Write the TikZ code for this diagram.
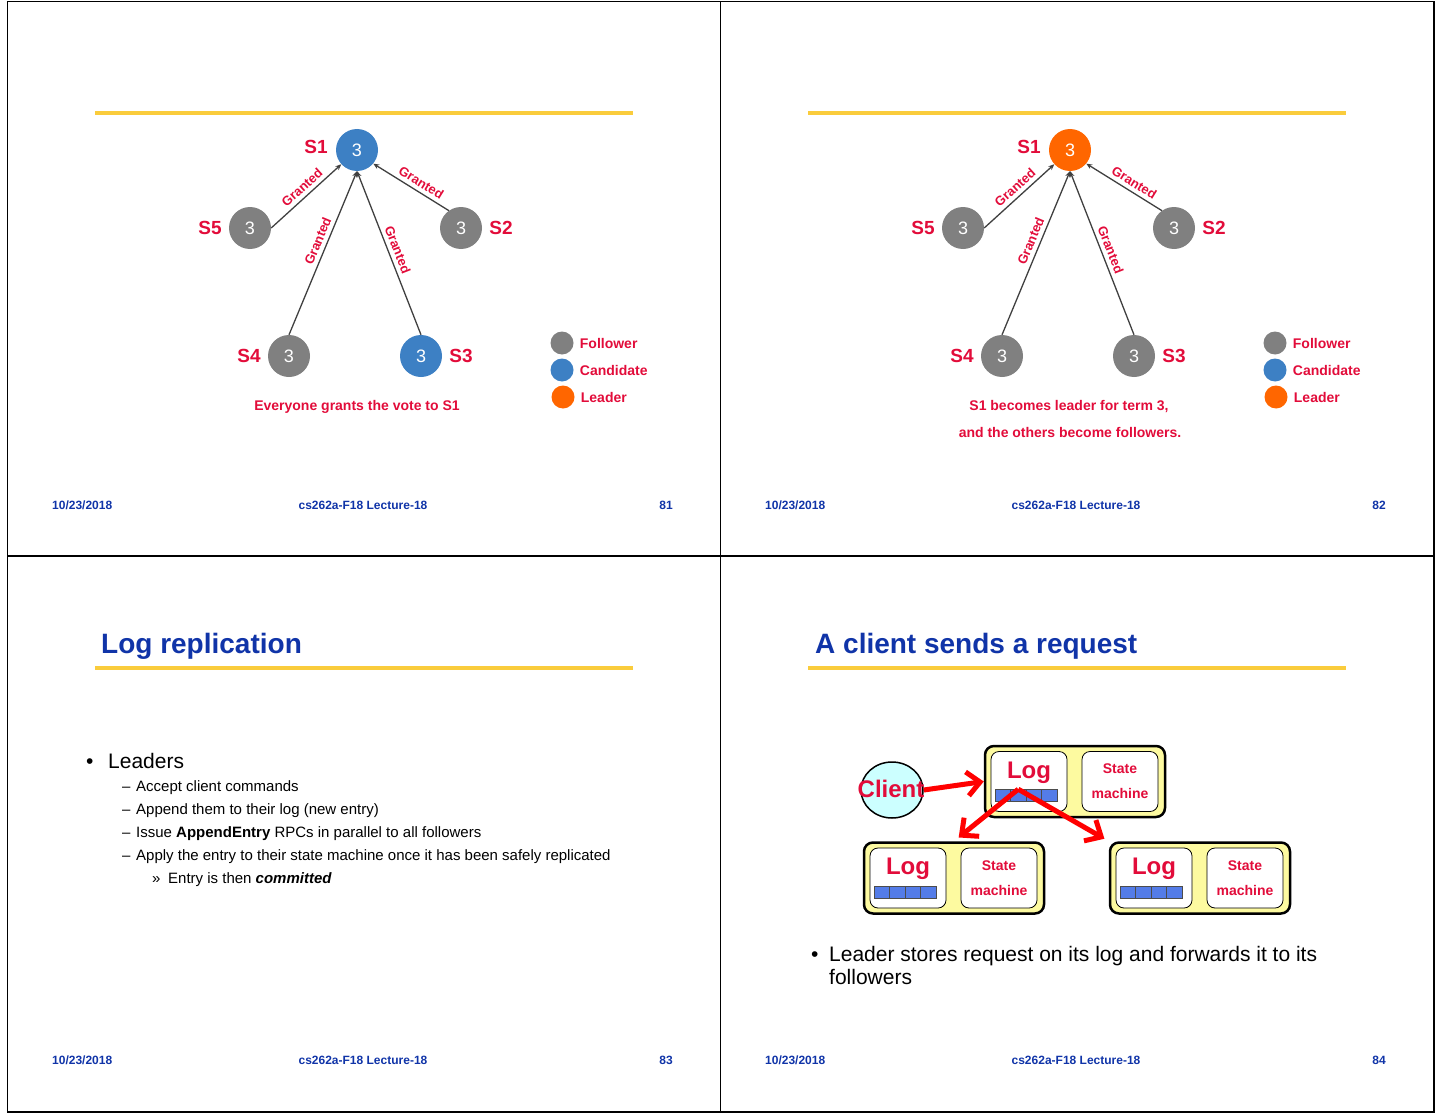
\documentclass[tikz,border=0pt]{standalone}
\usepackage{fontspec}
\setmainfont{Liberation Sans}
\usepackage{xcolor}
\usetikzlibrary{positioning, arrows.meta, shapes.geometric}

\definecolor{votered}{RGB}{226,12,58}
\definecolor{srvgray}{RGB}{128,128,128}
\definecolor{srvblue}{RGB}{61,128,196}
\definecolor{srvorange}{RGB}{255,102,0}
\definecolor{slideblue}{RGB}{16,52,168}
\definecolor{ruleyellow}{RGB}{250,204,60}
\definecolor{boxyellow}{RGB}{253,250,160}
\definecolor{clientcyan}{RGB}{204,255,255}
\definecolor{cellblue}{RGB}{84,124,232}

\newcommand{\sizept}[1]{\fontsize{#1}{#1}\selectfont}

\begin{document}
\begin{tikzpicture}[x=1pt, y=-1pt,
    node distance=6pt,
    srv/.style={circle, minimum size=42pt, inner sep=0pt, text=white, font=\sizept{18}},
    follower/.style={srv, fill=srvgray},
    candidate/.style={srv, fill=srvblue},
    leader/.style={srv, fill=srvorange},
    srvlabel/.style={text=votered, font=\sizept{19}\bfseries, inner sep=1pt},
    vote/.style={draw=black!75, line width=1.3pt, -{Stealth[length=6pt, width=5pt]}},
    granted/.style={text=votered, font=\sizept{13}\bfseries, inner sep=1pt, sloped, above=3pt},
    legdot/.style={minimum size=23pt},
    legtext/.style={text=votered, font=\sizept{14}\bfseries, inner sep=1pt},
    captiontext/.style={text=votered, font=\sizept{14}\bfseries, inner sep=0pt},
    foot/.style={text=slideblue, font=\sizept{12}\bfseries, inner sep=0pt},
    yrule/.style={draw=ruleyellow, line width=3.5pt},
    slidetitle/.style={text=slideblue, font=\sizept{28}\bfseries, inner sep=0pt, anchor=base west},
    bodybig/.style={font=\sizept{21}, inner sep=0pt, anchor=base west},
    bodysmall/.style={font=\sizept{15}, inner sep=0pt, anchor=base west},
    srvbox/.style={draw, line width=2.5pt, fill=boxyellow, rounded corners=9pt, minimum width=180pt, minimum height=71pt, inner sep=0pt},
    innerbox/.style={draw, line width=0.8pt, fill=white, rounded corners=8pt, minimum width=76pt, minimum height=60pt, inner sep=0pt},
    logtext/.style={text=votered, font=\sizept{24}\bfseries, inner sep=0pt},
    smtext/.style={text=votered, font=\fontsize{14}{25}\selectfont\bfseries, inner sep=0pt, align=center},
    cell/.style={draw=black!70, fill=cellblue, line width=0.6pt, minimum width=15.5pt, minimum height=12pt, inner sep=0pt},
    client/.style={ellipse, draw, line width=1.5pt, fill=clientcyan, minimum width=62pt, minimum height=56pt, inner sep=0pt},
    push/.style={draw=red, line width=5pt, -{Straight Barb[length=13pt, width=24pt]}}
  ]
  \useasboundingbox (0,0) rectangle (1440,1113);

  % slide frames
  \draw[line width=1.5pt] (7.5,1.5) rectangle (1434,1112);
  \draw[line width=1.5pt] (720.5,1.5) -- (720.5,1112);
  \draw[line width=1.5pt] (7.5,556) -- (1434,556);

  \foreach \dx/\dy in {0/0, 713/0, 0/555, 713/555}
    \draw[yrule] (95+\dx,113+\dy) -- (633+\dx,113+\dy);

  % footers
  \foreach \dx/\dy/\num in {0/0/81, 713/0/82, 0/555/83, 713/555/84} {
    \node[foot, anchor=base west] (date\num) at (52+\dx,509+\dy) {10/23/2018};
    \node[foot, anchor=base] (course\num) at (363+\dx,509+\dy) {cs262a-F18 Lecture-18};
    \node[foot, anchor=base east] (page\num) at (673+\dx,509+\dy) {\num};
  }

  % election slides
  \foreach \dx/\headstyle/\lowstyle/\p in {0/candidate/candidate/a, 713/leader/follower/b} {
    \begin{scope}[xshift=\dx]
      \node[\headstyle] (s1\p) at (357,150) {3};
      \node[follower] (s5\p) at (250,228) {3};
      \node[follower] (s2\p) at (461,228) {3};
      \node[follower] (s4\p) at (289,356) {3};
      \node[\lowstyle] (s3\p) at (421,356) {3};

      \node[srvlabel, left=7pt of s1\p, yshift=3pt] (l1\p) {S1};
      \node[srvlabel, left=of s5\p] (l5\p) {S5};
      \node[srvlabel, right=of s2\p] (l2\p) {S2};
      \node[srvlabel, left=of s4\p] (l4\p) {S4};
      \node[srvlabel, right=of s3\p] (l3\p) {S3};

      \draw[vote] (s5\p.east) -- (s1\p) node[granted, pos=0.53] {Granted};
      \draw[vote] (s2\p.125) -- (s1\p.-40) node[granted, pos=0.43] {Granted};
      \draw[vote] (s4\p.north) -- (s1\p.south) node[granted, pos=0.55] {Granted};
      \draw[vote] (s3\p.north) -- (s1\p.south) node[granted, pos=0.5] {Granted};

      \node[follower, legdot] (dotf\p) at (562,343) {};
      \node[candidate, legdot] (dotc\p) at (562,370) {};
      \node[leader, legdot] (dotl\p) at (563,397) {};
      \node[legtext, right=5pt of dotf\p] (txtf\p) {Follower};
      \node[legtext, right=5pt of dotc\p] (txtc\p) {Candidate};
      \node[legtext, right=5pt of dotl\p] (txtl\p) {Leader};
    \end{scope}
  }
  \node[captiontext] (capa) at (357,407) {Everyone grants the vote to S1};
  \node[captiontext] (capb1) at (1069,407) {S1 becomes leader for term 3,};
  \node[captiontext] (capb2) at (1070,432) {and the others become followers.};

  % log replication slide
  \node[slidetitle] (title3) at (101,653) {Log replication};
  \node[bodybig] (dot3) at (86,768) {•};
  \node[bodybig] (lead3) at (108,768) {Leaders};
  \foreach \y/\t [count=\k] in {791/{Accept client commands},
      814/{Append them to their log (new entry)},
      837/{Issue \textbf{AppendEntry} RPCs in parallel to all followers},
      860/{Apply the entry to their state machine once it has been safely replicated}} {
    \node[bodysmall] (dash\k) at (122,\y) {–};
    \node[bodysmall] (item\k) at (136,\y) {\t};
  }
  \node[bodysmall] (raquo) at (152,883) {»};
  \node[bodysmall] (commit) at (168,883) {Entry is then \textbf{\textit{committed}}};

  % client request slide
  \node[slidetitle] (title4) at (815,653) {A client sends a request};
  \foreach \bx/\by/\b in {1075/781.5/ld, 954/878/fa, 1200/878/fb} {
    \node[srvbox] (\b) at (\bx,\by) {};
    \node[innerbox] (\b-log) at ([xshift=-46pt]\b.center) {};
    \node[innerbox] (\b-sm) at ([xshift=45pt]\b.center) {};
    \node[logtext] (\b-lt) at ([yshift=9pt]\b-log.center) {Log};
    \node[smtext] (\b-st) at (\b-sm.center) {State\\machine};
    \foreach \i in {1,...,4}
      \node[cell] (\b-c\i) at ([xshift={(\i-2.5)*15.5pt-3pt}, yshift=-14pt]\b-log.center) {};
  }
  \node[client] (client) at (892,790) {};
  \node[logtext] (clienttxt) at ([xshift=-1pt, yshift=1pt]client.center) {Client};

  \draw[push] (client.east) -- (ld.west);
  \draw[push, shorten >=6pt] (ld-c2.north) -- (fa.north);
  \draw[push, shorten >=5pt] (ld-c2.north) -- (fb.north west);

  \node[bodybig] (dot4) at (811,961) {•};
  \node[bodybig] (line4a) at (829,961) {Leader stores request on its log and forwards it to its};
  \node[bodybig] (line4b) at (829,984) {followers};
\end{tikzpicture}
\end{document}
